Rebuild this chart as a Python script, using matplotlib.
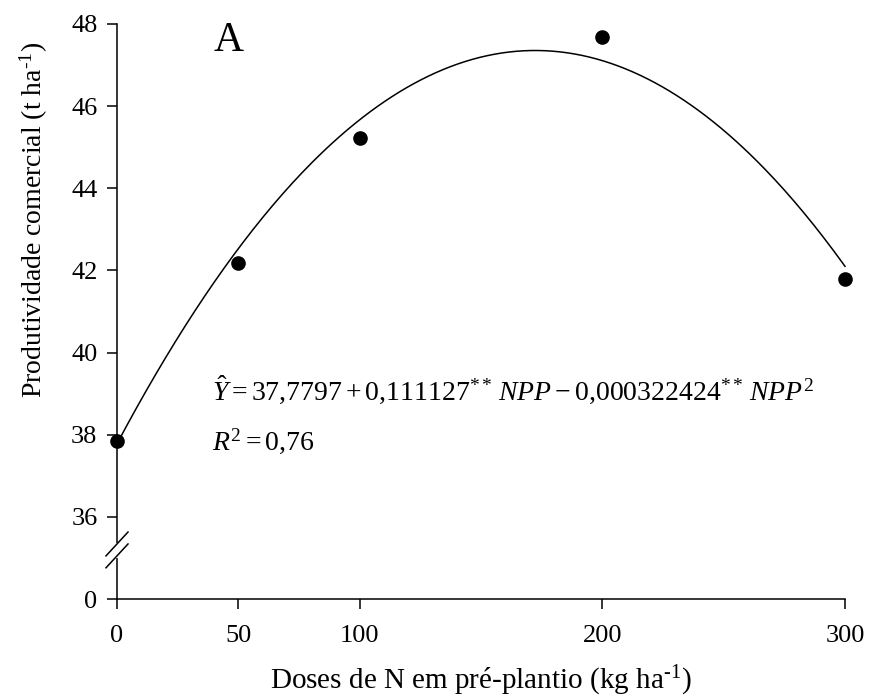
import numpy as np
import matplotlib
matplotlib.use('Agg')
import matplotlib.pyplot as plt

# data
doses = [0, 50, 100, 200, 300]
produtividade = [37.85, 42.17, 45.22, 47.68, 41.78]

# fitted equation shown on the chart
b0, b1, b2 = 37.7797, 0.111127, -0.000322424

yticks = [34, 36, 38, 40, 42, 44, 46, 48]
yticklabels = ['0', '36', '38', '40', '42', '44', '46', '48']
xticks = [0, 50, 100, 200, 300]

plt.rcParams['font.family'] = ['Liberation Serif', 'DejaVu Serif']
plt.rcParams['mathtext.fontset'] = 'custom'
plt.rcParams['mathtext.rm'] = 'Liberation Serif'
plt.rcParams['mathtext.it'] = 'Liberation Serif:italic'
plt.rcParams['mathtext.bf'] = 'Liberation Serif:bold'

fig = plt.figure(figsize=(8.69, 6.97), dpi=100)
ax = fig.add_axes([117/869, 1 - 599/697, (845 - 117)/869, (599 - 24)/697])

xs = np.linspace(0, 300, 300)
ax.plot(xs, b0 + b1 * xs + b2 * xs**2, color='black', lw=1.1, clip_on=False)
ax.plot(doses, produtividade, 'o', color='black', ms=9.5, clip_on=False, zorder=5)

ax.set_xlim(0, 300)
ax.set_ylim(34, 48)
ax.set_xticks(xticks)
ax.set_xticklabels([str(v) for v in xticks])
ax.set_yticks(yticks)
ax.set_yticklabels(yticklabels)

for s in ['top', 'right']:
    ax.spines[s].set_visible(False)
for s in ['left', 'bottom']:
    ax.spines[s].set_linewidth(1.1)
ax.tick_params(direction='out', length=7, width=1.1, labelsize=19)
ax.tick_params(axis='x', pad=12)
ax.tick_params(axis='y', pad=7)

# axis break
tr = ax.get_yaxis_transform()
ax.plot([0, 0], [35.05, 35.32], color='white', lw=3, transform=tr, clip_on=False, zorder=6)
ax.plot([-0.0151, 0.0151], [35.05, 35.63], color='black', lw=1.1, transform=tr, clip_on=False, zorder=7)
ax.plot([-0.0151, 0.0151], [34.76, 35.34], color='black', lw=1.1, transform=tr, clip_on=False, zorder=7)

ax.set_ylabel(r'Produtividade comercial (t ha$^{\text{-1}}$)', fontsize=20)
ax.set_xlabel(r'Doses de N em pré-plantio (kg ha$^{\text{-1}}$)', fontsize=21)
ax.yaxis.set_label_coords(-0.092, 0.66)
ax.xaxis.set_label_coords(0.5, -0.113)

ax.text(46, 47.6, 'A', fontsize=30, ha='center', va='center')
ax.text(39, 39.1,
        r'$\hat{Y} = 37{,}7797 + 0{,}111127^{**}\,NPP - 0{,}000322424^{**}\,NPP^2$',
        fontsize=20, ha='left', va='center')
ax.text(39, 37.85, r'$R^2 = 0{,}76$', fontsize=20, ha='left', va='center')

fig.savefig('out.png', dpi=100)
